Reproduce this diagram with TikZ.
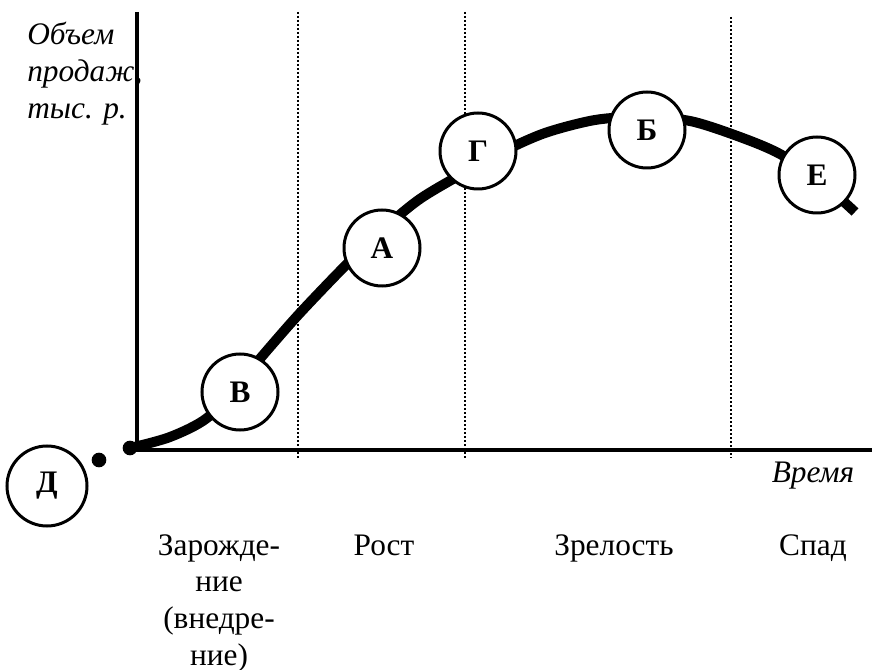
\documentclass[tikz,border=0pt]{standalone}
\usepackage{fontspec}
\setmainfont{Liberation Serif}
\usetikzlibrary{calc}
\newcommand{\stagefont}{\fontsize{23.5}{27.5}\selectfont}

\begin{document}
\begin{tikzpicture}[x=0.75pt, y=-0.75pt,
  stagept/.style={circle, draw, fill=white, line width=2.25pt, minimum size=57pt,
    inner sep=0pt, font=\stagefont\bfseries},
  dotpt/.style={circle, fill, minimum size=11pt, inner sep=0pt},
  stagelabel/.style={anchor=base, align=center, inner sep=0pt, font=\stagefont},
  axislabel/.style={inner sep=0pt, font=\stagefont\itshape},
  divider/.style={line width=1.5pt, dash pattern=on 1.5pt off 1.5pt},
  axisline/.style={line width=3pt}]
  \useasboundingbox (0,0) rectangle (872,670);

  % Axes
  \coordinate (ytop) at (137,12);
  \coordinate (origin) at (137,452);
  \coordinate (xstart) at (135,450);
  \coordinate (xend) at (872,450);
  \draw[axisline] (ytop) -- (origin);
  \draw[axisline] (xstart) -- (xend);

  % Stage borders
  \draw[divider] (298,12) -- (298,458);
  \draw[divider] (465,12) -- (465,458);
  \draw[divider] (731,17) -- (731,458);

  % Sales curve
  \node[dotpt] (start) at (130,448) {};
  \node[dotpt] (pre) at (99,460) {};
  \draw[line width=7.5pt] plot[smooth] coordinates {
    (130,448) (170,437) (207,418) (240,382) (270,347) (300,313) (343,268)
    (380,232) (417,201) (453,179) (500,153) (545,133) (595,120) (640,117)
    (690,121) (740,137) (780,154) (820,181) (855,212)};

  % Points on the curve
  \node[stagept] (v) at (240,392) {В};
  \node[stagept] (a) at (382,248) {А};
  \node[stagept] (g) at (478,151) {Г};
  \node[stagept] (b) at (647,130) {Б};
  \node[stagept] (e) at (817,175) {Е};
  \node[stagept, minimum size=60pt] (d) at (47,486) {Д};

  % Axis labels
  \node[axislabel, anchor=north west, align=left] (ylab) at (27,22)
    {Объем\\продаж,\\тыс. р.};
  \node[axislabel, anchor=base] (xlab) at (813,483) {Время};

  % Stage names
  \node[stagelabel, anchor=north] (s1) at (219,534) {Зарожде-\\ние\\(внедре-\\ние)};
  \node[stagelabel] (s2) at (384,556) {Рост};
  \node[stagelabel] (s3) at (614,556) {Зрелость};
  \node[stagelabel] (s4) at (813,556) {Спад};
\end{tikzpicture}
\end{document}
